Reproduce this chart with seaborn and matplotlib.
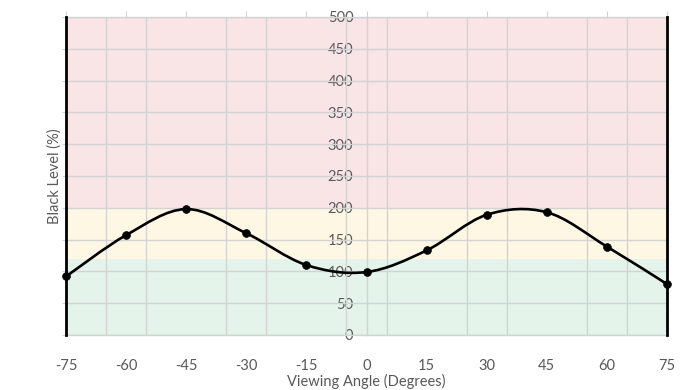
import matplotlib
matplotlib.use("Agg")
import matplotlib.pyplot as plt
from matplotlib.path import Path
from matplotlib.patches import PathPatch
import seaborn as sns
import pandas as pd
import numpy as np

angles = [-75, -60, -45, -30, -15, 0, 15, 30, 45, 60, 75]
black_level = [92, 157, 198, 160, 110, 99, 133, 189, 193, 139, 80]

bands = [(0, 120, "#e4f4ea"), (120, 200, "#fef7e4"), (200, 500, "#f9e4e6")]
text_col = "#595959"
grid_col = "#d3d3d3"

df = pd.DataFrame({"angle": angles, "black": black_level})

sns.set_style("white")
plt.rcParams["font.family"] = ["Lato", "DejaVu Sans"]
plt.rcParams["axes.unicode_minus"] = False

fig = plt.figure(figsize=(6.92, 3.90), dpi=100)
ax = fig.add_axes([66 / 692, 1 - 335 / 390, 601 / 692, 318 / 390])

for lo, hi, c in bands:
    ax.axhspan(lo, hi, color=c, zorder=0, lw=0)

ax.set_xlim(-75, 75)
ax.set_ylim(0, 500)

# grid: horizontal every 50, vertical every 10 from -75
ax.set_yticks(np.arange(0, 501, 50))
ax.set_yticklabels([])
ax.set_xticks(angles)
ax.set_xticks(np.arange(-65, 75, 10), minor=True)
ax.grid(False)
ax.yaxis.grid(True, color=grid_col, lw=1, zorder=1)
ax.xaxis.grid(True, which="minor", color=grid_col, lw=1, zorder=1)
ax.set_axisbelow(True)

ax.tick_params(axis="x", which="major", bottom=False, top=True, length=4,
               color=grid_col, labelsize=10.5, labelcolor=text_col, pad=13)
ax.tick_params(axis="x", which="minor", bottom=False, top=False)
ax.tick_params(axis="y", left=True, length=3, color=grid_col, pad=0)

for s in ["left", "right"]:
    ax.spines[s].set_color("black")
    ax.spines[s].set_linewidth(2)
    ax.spines[s].set_zorder(5)
for s in ["top", "bottom"]:
    ax.spines[s].set_color(grid_col)
    ax.spines[s].set_linewidth(1)

# center axis with labels on its left side
sec = ax.secondary_yaxis(0.5)
sec.set_yticks(np.arange(0, 501, 50))
sec.yaxis.set_ticks_position("left")
sec.yaxis.set_label_position("left")
for s in sec.spines.values():
    s.set_color(grid_col)
    s.set_linewidth(1)
sec.tick_params(axis="y", length=0, labelsize=10.5,
                labelcolor=text_col, pad=9.5)

# smooth curve through the points (Catmull-Rom as Bezier segments)
pts = df[["angle", "black"]].to_numpy(dtype=float)
ext = np.vstack([pts[0], pts, pts[-1]])
verts = [tuple(pts[0])]
codes = [Path.MOVETO]
for i in range(1, len(ext) - 2):
    p0, p1, p2, p3 = ext[i - 1], ext[i], ext[i + 1], ext[i + 2]
    c1 = p1 + (p2 - p0) / 6
    c2 = p2 - (p3 - p1) / 6
    verts += [tuple(c1), tuple(c2), tuple(p2)]
    codes += [Path.CURVE4] * 3
ax.add_patch(PathPatch(Path(verts, codes), fill=False, lw=1.9,
                       edgecolor="black", zorder=6, clip_on=False))

sns.scatterplot(data=df, x="angle", y="black", ax=ax, color="black", s=32,
                edgecolor="black", zorder=7, clip_on=False, legend=False)

ax.set_xlabel("Viewing Angle (Degrees)", fontsize=10.5, color=text_col, labelpad=1)
ax.set_ylabel("Black Level (%)", fontsize=10.5, color=text_col, labelpad=0)

fig.savefig("out.png", dpi=100)
